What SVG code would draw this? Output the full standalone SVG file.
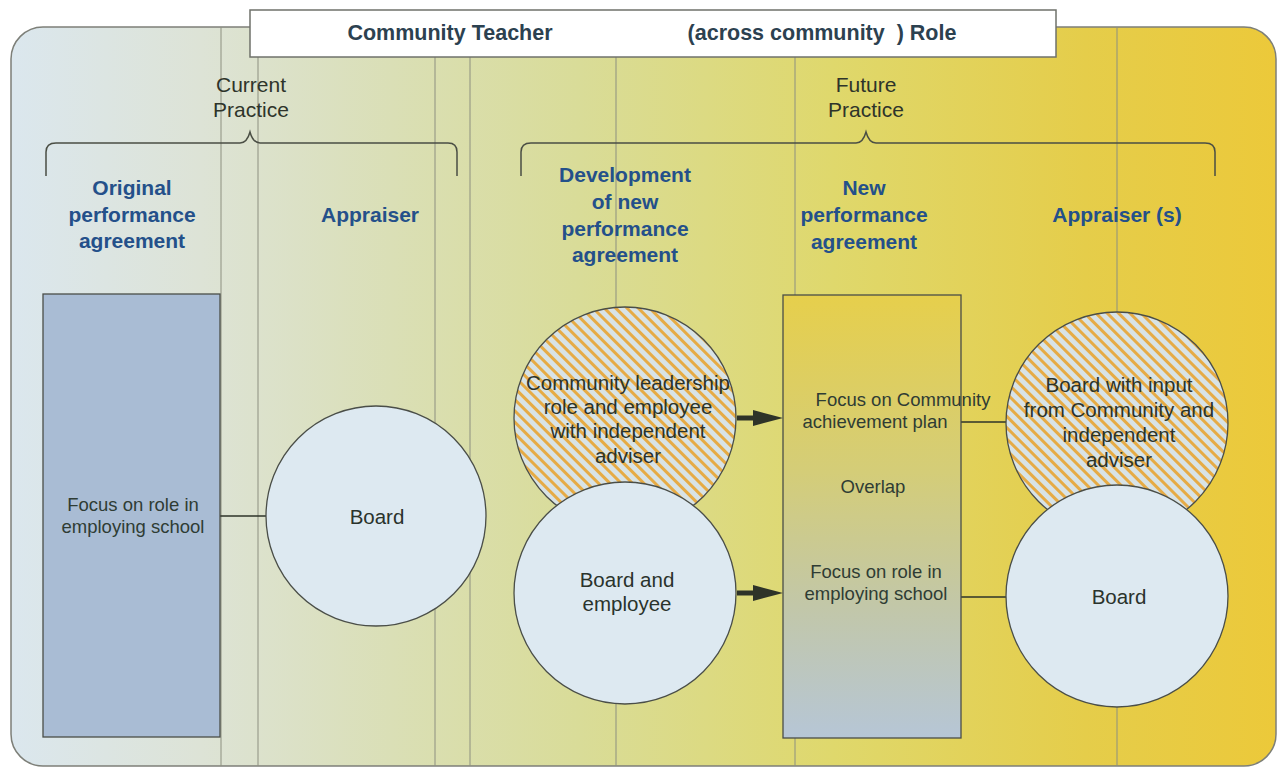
<svg xmlns="http://www.w3.org/2000/svg" width="1286" height="769" viewBox="0 0 1286 769">
<defs>
<linearGradient id="bg" x1="0" y1="0" x2="1" y2="0">
<stop offset="0" stop-color="#dbe7ee"/>
<stop offset="0.15" stop-color="#dde3d6"/>
<stop offset="0.3" stop-color="#dadfb6"/>
<stop offset="0.45" stop-color="#d9dc98"/>
<stop offset="0.65" stop-color="#dfd86c"/>
<stop offset="0.85" stop-color="#e5cd4a"/>
<stop offset="1" stop-color="#ecc93a"/>
</linearGradient>
<linearGradient id="mid" x1="0" y1="0" x2="0" y2="1">
<stop offset="0" stop-color="#e6cf4c"/>
<stop offset="0.4" stop-color="#d4cd78"/>
<stop offset="0.7" stop-color="#c2c7a8"/>
<stop offset="1" stop-color="#b6c6d6"/>
</linearGradient>
<pattern id="hatch" patternUnits="userSpaceOnUse" width="8" height="8" patternTransform="rotate(-45)">
<rect width="8" height="8" fill="#d8e3e6"/>
<rect width="3" height="8" fill="#e6ab45"/>
</pattern>
<marker id="arr" viewBox="0 0 30 16" refX="7" refY="8" markerWidth="30" markerHeight="16" markerUnits="userSpaceOnUse" orient="auto">
<path d="M0,0 L30,8 L0,16 z" fill="#2e3328"/>
</marker>
</defs>
<style>
.grid{stroke:#8d9080;stroke-width:1;fill:none}
.brace{stroke:#4a4e44;stroke-width:1.5;fill:none}
.hdr{font-family:"Liberation Sans",Arial,sans-serif;font-weight:bold;font-size:21px;fill:#24508a;text-anchor:middle}
.prac{font-family:"Liberation Sans",Arial,sans-serif;font-size:21px;fill:#2e342a;text-anchor:middle}
.title{font-family:"Liberation Sans",Arial,sans-serif;font-weight:bold;font-size:21.5px;fill:#2c4150;text-anchor:middle}
.ct{font-family:"Liberation Sans",Arial,sans-serif;font-size:20.5px;fill:#2a332c;text-anchor:middle}
.rt{font-family:"Liberation Sans",Arial,sans-serif;font-size:18.5px;fill:#2f3c34;text-anchor:middle}
.node{stroke:#4a4e48;stroke-width:1.3}
.conn{stroke:#2e3328;stroke-width:1.5;fill:none}
.thick{stroke:#2e3328;stroke-width:5;fill:none}
</style>
<rect width="1286" height="769" fill="#ffffff"/>
<rect x="11" y="27" width="1265" height="739" rx="32" fill="url(#bg)" stroke="#7d7f78" stroke-width="1.5"/>
<g id="gridlines">
<line class="grid" x1="221" y1="27" x2="221" y2="766"/>
<line class="grid" x1="258" y1="27" x2="258" y2="766"/>
<line class="grid" x1="435" y1="27" x2="435" y2="766"/>
<line class="grid" x1="470" y1="27" x2="470" y2="766"/>
<line class="grid" x1="616" y1="27" x2="616" y2="766"/>
<line class="grid" x1="795" y1="27" x2="795" y2="766"/>
<line class="grid" x1="1117" y1="27" x2="1117" y2="766"/>
</g>
<g id="title">
<rect x="250" y="10" width="806" height="47" fill="#ffffff" stroke="#6f726b" stroke-width="1.5"/>
<text class="title" x="450" y="40">Community Teacher</text>
<text class="title" x="822" y="40" xml:space="preserve">(across community  ) Role</text>
</g>
<g id="current-practice">
<text class="prac" x="251" y="92">Current</text>
<text class="prac" x="251" y="117">Practice</text>
<path class="brace" d="M46,176 L46,152 Q46,143 56,143 L240,143 Q247,143 250,132 Q253,143 260,143 L448,143 Q457,143 457,152 L457,176"/>
</g>
<g id="future-practice">
<text class="prac" x="866" y="92">Future</text>
<text class="prac" x="866" y="117">Practice</text>
<path class="brace" d="M521,176 L521,152 Q521,143 531,143 L856,143 Q863,143 866,132 Q869,143 876,143 L1205,143 Q1215,143 1215,152 L1215,176"/>
</g>
<g id="headers">
<text class="hdr" x="132" y="195">Original</text>
<text class="hdr" x="132" y="222">performance</text>
<text class="hdr" x="132" y="248">agreement</text>
<text class="hdr" x="370" y="222">Appraiser</text>
<text class="hdr" x="625" y="182">Development</text>
<text class="hdr" x="625" y="209">of new</text>
<text class="hdr" x="625" y="236">performance</text>
<text class="hdr" x="625" y="262">agreement</text>
<text class="hdr" x="864" y="195">New</text>
<text class="hdr" x="864" y="222">performance</text>
<text class="hdr" x="864" y="249">agreement</text>
<text class="hdr" x="1117" y="222">Appraiser (s)</text>
</g>
<g id="connectors">
<line class="conn" x1="220" y1="516" x2="266" y2="516"/>
<line class="conn" x1="961" y1="422" x2="1008" y2="422"/>
<line class="conn" x1="961" y1="597" x2="1008" y2="597"/>
<line class="thick" x1="737" y1="418" x2="760" y2="418" marker-end="url(#arr)"/>
<line class="thick" x1="737" y1="593" x2="760" y2="593" marker-end="url(#arr)"/>
</g>
<g id="original-rect">
<rect class="node" x="43" y="294" width="177" height="443" fill="#a9bcd4"/>
<text class="rt" x="133" y="511">Focus on role in</text>
<text class="rt" x="133" y="533">employing school</text>
</g>
<g id="board-current">
<circle class="node" cx="376" cy="516" r="110" fill="#dde9f1"/>
<text class="ct" x="377" y="524">Board</text>
</g>
<g id="community-leadership">
<circle class="node" cx="625" cy="418" r="111" fill="url(#hatch)"/>
<text class="ct" x="628" y="390">Community leadership</text>
<text class="ct" x="628" y="414">role and employee</text>
<text class="ct" x="628" y="438">with independent</text>
<text class="ct" x="628" y="463">adviser</text>
</g>
<g id="board-employee">
<circle class="node" cx="625" cy="593" r="111" fill="#dde9f1"/>
<text class="ct" x="627" y="587">Board and</text>
<text class="ct" x="627" y="611">employee</text>
</g>
<g id="new-agreement">
<rect class="node" x="783" y="295" width="178" height="443" fill="url(#mid)"/>
<text class="rt" x="903" y="406">Focus on Community</text>
<text class="rt" x="875" y="428">achievement plan</text>
<text class="rt" x="873" y="493">Overlap</text>
<text class="rt" x="876" y="578">Focus on role in</text>
<text class="rt" x="876" y="600">employing school</text>
</g>
<g id="board-input">
<circle class="node" cx="1117" cy="423" r="111" fill="url(#hatch)"/>
<text class="ct" x="1119" y="392">Board with input</text>
<text class="ct" x="1119" y="417">from Community and</text>
<text class="ct" x="1119" y="442">independent</text>
<text class="ct" x="1119" y="467">adviser</text>
</g>
<g id="board-future">
<circle class="node" cx="1117" cy="596" r="111" fill="#dde9f1"/>
<text class="ct" x="1119" y="604">Board</text>
</g>
</svg>
